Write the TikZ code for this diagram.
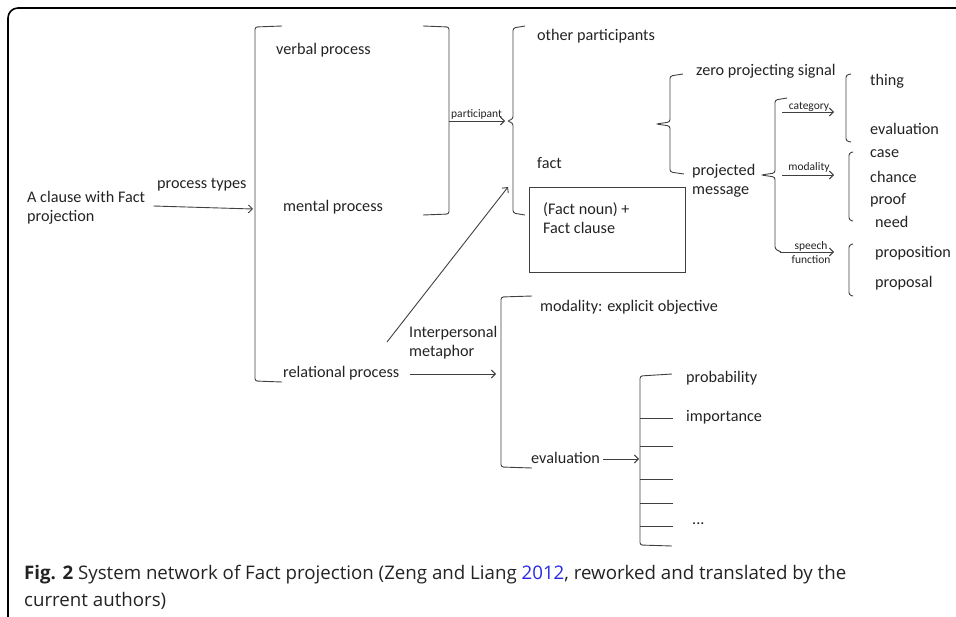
\documentclass[tikz,border=0pt]{standalone}
\usepackage{fontspec}
\setmainfont{Carlito}
\newfontfamily\capfont{Open Sans}
\usetikzlibrary{arrows.meta}
\definecolor{linkblue}{RGB}{40,40,230}
\definecolor{ink}{RGB}{35,35,35}
\begin{document}
\begin{tikzpicture}[x=1pt,y=-1pt,
  lbl/.style={inner sep=0pt,text=ink,font=\fontsize{16.2}{19}\selectfont,anchor=mid west},
  ml/.style={inner sep=0pt,text=ink,font=\fontsize{16.2}{19}\selectfont,anchor=west,align=left},
  sml/.style={inner sep=0pt,text=ink,font=\fontsize{11.5}{14}\selectfont},
  ln/.style={line width=0.9pt,draw=black!75},
  arr/.style={ln,-{Straight Barb[length=4pt,width=8pt]}},
  br/.style={ln,rounded corners=2.5pt}]
\useasboundingbox (0,0) rectangle (956,616);
% frame
\draw[line width=1.6pt,rounded corners=10pt] (8,640) -- (8,8) -- (990,8);

% left part
\node[ml] (clause) at (27,207.5) {A clause with Fact\\projection};
\node[lbl] (ptypes) at (157,186) {process types};
\coordinate (procbr) at (253,209);
\draw[arr] ([xshift=8pt,yshift=1.5pt]clause.east) -- (procbr);

% process bracket
\draw[br] (282,26) -- (255,27) -- (255,381) -- (282,382);
\node[lbl] (verbal) at (276,52) {verbal process};
\node[lbl] (mental) at (283,209) {mental process};
\node[lbl] (relat) at (283,375) {relational process};

% right bracket of verbal/mental
\draw[br] (423,26) -- (449,27) -- (449,214) -- (423,215);
\coordinate (partsrc) at (449,121);
\coordinate (partbr) at (505,121);
\draw[arr] (partsrc) -- (partbr);
\node[sml,anchor=base west] (partlbl) at (451,117) {participant};

% participant brace
\draw[br] (525,26) -- (513,28) -- (513,119) -- (507,121) -- (513,123) -- (513,213) -- (525,215);
\node[lbl] (other) at (537,38) {other participants};
\node[lbl] (fact) at (537,166) {fact};
\node[draw=black!75,line width=0.9pt,minimum width=156pt,minimum height=85pt,anchor=north west,inner sep=0pt] (factbox) at (529,187) {};
\node[ml,anchor=north west] (factcl) at (543,202) {(Fact noun) +\\Fact clause};

% interpersonal metaphor arrow
\coordinate (imstart) at (387,342);
\coordinate (imend) at (508,187);
\draw[arr] (imstart) -- (imend);
\node[ml] (interp) at (409,342.5) {Interpersonal\\metaphor};

% fact brace
\draw[br] (683,74) -- (670,76) -- (670,122) -- (656,124) -- (670,126) -- (670,172) -- (684,174);
\node[lbl] (zero) at (696,73) {zero projecting signal};
\node[ml] (projmsg) at (692,181) {projected\\message};

% projected message brace
\draw[br] (787,98) -- (775,100) -- (775,173) -- (761,175) -- (775,177) -- (775,249) -- (781,252);
\coordinate (catsrc) at (782,112);
\coordinate (catdst) at (834,112);
\draw[arr] (catsrc) -- (catdst);
\node[sml,anchor=base] (catlbl) at (809,109) {category};
\coordinate (modsrc) at (782,175);
\coordinate (moddst) at (834,175);
\draw[arr] (modsrc) -- (moddst);
\node[sml,anchor=base] (modlbl) at (809,170) {modality};
\coordinate (spsrc) at (780,252);
\coordinate (spdst) at (834,252);
\draw[arr] (spsrc) -- (spdst);
\node[sml,align=center,anchor=north] (splbl) at (811,241) {speech\\function};

% category bracket
\draw[br] (851,74) -- (846,75) -- (846,141) -- (851,142);
\node[lbl] (thing) at (870,83) {thing};
\node[lbl] (evalA) at (870,132) {evaluation};
% modality bracket
\draw[br] (853,152) -- (849,153) -- (849,220) -- (853,221);
\node[lbl] (case) at (870,155) {case};
\node[lbl] (chance) at (870,180) {chance};
\node[lbl] (proof) at (870,202) {proof};
\node[lbl] (need) at (875,225) {need};
% speech function bracket
\draw[br] (853,244) -- (849,245) -- (849,295) -- (853,296);
\node[lbl] (propn) at (875,255) {proposition};
\node[lbl] (propl) at (875,285) {proposal};

% relational branch
\coordinate (relsrc) at (410,374);
\coordinate (reldst) at (496,374);
\draw[arr] (relsrc) -- (reldst);
\draw[br] (532,296) -- (501,297) -- (501,467) -- (532,468);
\node[lbl] (modexp) at (540,309) {modality: explicit objective};
\node[lbl] (evalB) at (531,461) {evaluation};
\coordinate (evsrc) at (603,459);
\coordinate (evdst) at (639,459);
\draw[arr] (evsrc) -- (evdst);

% evaluation bracket
\draw[br] (672,374) -- (640,376) -- (640,545) -- (672,546);
\foreach \yy/\nm in {418/a,446/b,479/c,503/d,526/e}
  \draw[ln] (640,\yy) -- (673,\yy) coordinate (tick\nm);
\node[lbl] (prob) at (686,380) {probability};
\node[lbl] (imp) at (686,419) {importance};
\node[lbl] (dots) at (692,522) {...};

% caption
\node[inner sep=0pt,anchor=base west,align=left,text=ink,font=\capfont\fontsize{18.7}{27}\selectfont] (cap) at (24,606)
 {\textbf{Fig. 2} System network of Fact projection (Zeng and Liang \textcolor{linkblue}{2012}, reworked and translated by the\\current authors)};
\end{tikzpicture}
\end{document}
